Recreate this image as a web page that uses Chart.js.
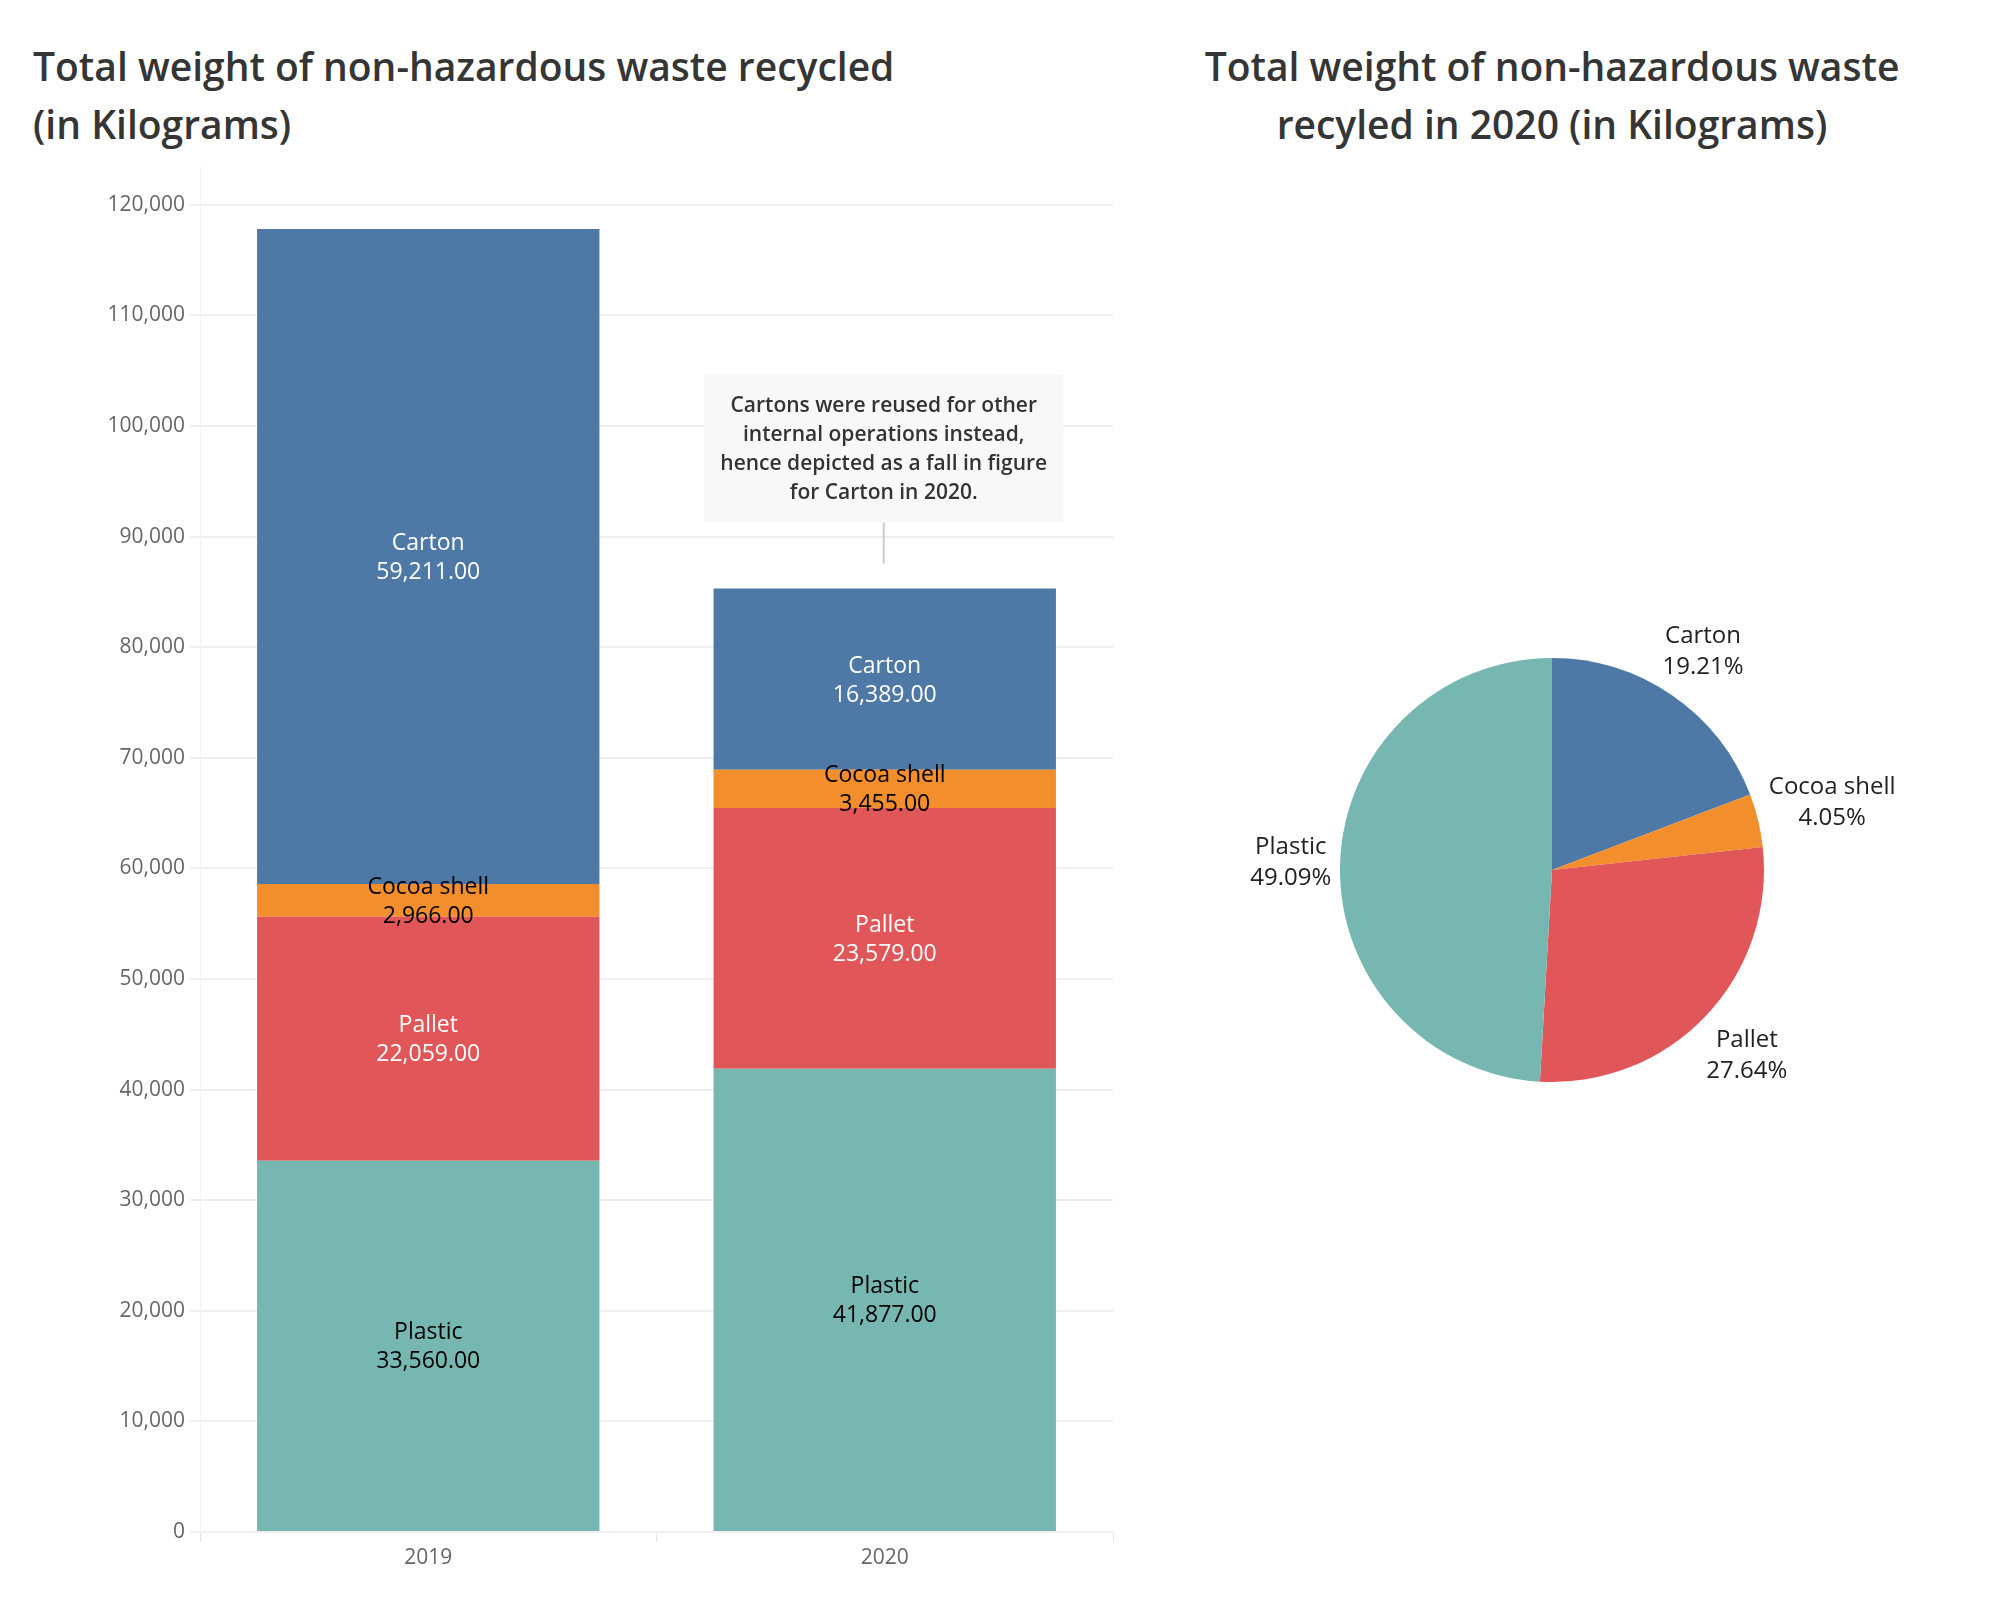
<!DOCTYPE html>
<html>
<head>
<meta charset="utf-8">
<script src="https://cdn.jsdelivr.net/npm/chart.js@4/dist/chart.umd.min.js"></script>
<style>
    html, body { margin: 0; padding: 0; background: #ffffff; }
    #page { position: relative; width: 2000px; height: 1600px; overflow: hidden; }
    .title {
        position: absolute; font-family: 'Open Sans', sans-serif; font-weight: 600;
        font-size: 39px; line-height: 58px; color: #353535; white-space: nowrap;
    }
    #barTitle { left: 33px; top: 37px; }
    #pieTitle { left: 1140px; width: 824px; top: 37px; text-align: center; }
    #barWrap { position: absolute; left: 0; top: 0; width: 1140px; height: 1600px; }
    #pieWrap { position: absolute; left: 1140px; top: 0; width: 860px; height: 1600px; }
</style>
</head>
<body>
<div id="page">
    <div class="title" id="barTitle">Total weight of non-hazardous waste recycled<br>(in Kilograms)</div>
    <div class="title" id="pieTitle">Total weight of non-hazardous waste<br>recyled in 2020 (in Kilograms)</div>
    <div id="barWrap"><canvas id="barChart"></canvas></div>
    <div id="pieWrap"><canvas id="pieChart"></canvas></div>
</div>
<script>
(function () {
    'use strict';

    var FONT = "'Open Sans', sans-serif";

    // data
    var years = ['2019', '2020'];
    var materials = ['Plastic', 'Pallet', 'Cocoa shell', 'Carton'];
    var plastic = [33560, 41877];
    var pallet = [22059, 23579];
    var cocoaShell = [2966, 3455];
    var carton = [59211, 16389];
    var yTicks = [0, 10000, 20000, 30000, 40000, 50000, 60000, 70000, 80000, 90000, 100000, 110000, 120000];

    // pie: 2020 only, clockwise from 12 o'clock
    var pieLabels = ['Carton', 'Cocoa shell', 'Pallet', 'Plastic'];
    var pieValues = [16389, 3455, 23579, 41877];

    var noteLines = [
        'Cartons were reused for other',
        'internal operations instead,',
        'hence depicted as a fall in figure',
        'for Carton in 2020.'
    ];

    var COLORS = {
        'Carton': '#4e79a7',
        'Cocoa shell': '#f28e2b',
        'Pallet': '#e15759',
        'Plastic': '#76b7b2'
    };
    var LABEL_COLORS = {
        'Carton': '#ffffff',
        'Cocoa shell': '#000000',
        'Pallet': '#ffffff',
        'Plastic': '#000000'
    };
    var GRID = '#efefef';

    function fmt2(v) {
        return v.toLocaleString('en-US', { minimumFractionDigits: 2, maximumFractionDigits: 2 });
    }

    var seriesByName = {
        'Plastic': plastic,
        'Pallet': pallet,
        'Cocoa shell': cocoaShell,
        'Carton': carton
    };

    // labels inside each bar segment
    var segmentLabels = {
        id: 'segmentLabels',
        afterDatasetsDraw: function (chart) {
            var ctx = chart.ctx;
            ctx.save();
            ctx.font = '23px ' + FONT;
            ctx.textAlign = 'center';
            ctx.textBaseline = 'middle';
            chart.data.datasets.forEach(function (ds, di) {
                var meta = chart.getDatasetMeta(di);
                meta.data.forEach(function (el, i) {
                    var mid = (el.y + el.base) / 2;
                    ctx.fillStyle = LABEL_COLORS[ds.label];
                    ctx.fillText(ds.label, el.x, mid - 13);
                    ctx.fillText(fmt2(ds.data[i]), el.x, mid + 16);
                });
            });
            ctx.restore();
        }
    };

    // callout above the 2020 stack
    var noteBox = {
        id: 'noteBox',
        afterDatasetsDraw: function (chart) {
            var last = chart.data.datasets.length - 1;
            var el = chart.getDatasetMeta(last).data[1];
            var ctx = chart.ctx;
            var cx = el.x - 1;
            var lineBottom = el.y - 25;
            var lineTop = el.y - 66;
            var boxW = 359, boxH = 148;
            var boxTop = lineTop - boxH;
            ctx.save();
            ctx.fillStyle = '#f8f8f8';
            ctx.fillRect(cx - boxW / 2, boxTop, boxW, boxH);
            ctx.strokeStyle = '#cccccc';
            ctx.lineWidth = 2;
            ctx.beginPath();
            ctx.moveTo(cx, lineTop);
            ctx.lineTo(cx, lineBottom);
            ctx.stroke();
            ctx.fillStyle = '#333333';
            ctx.font = '600 21px ' + FONT;
            ctx.textAlign = 'center';
            ctx.textBaseline = 'middle';
            noteLines.forEach(function (line, k) {
                ctx.fillText(line, cx, boxTop + 31 + k * 29.3);
            });
            ctx.restore();
        }
    };

    new Chart(document.getElementById('barChart'), {
        type: 'bar',
        data: {
            labels: years,
            datasets: materials.map(function (name) {
                return {
                    label: name,
                    data: seriesByName[name],
                    backgroundColor: COLORS[name],
                    borderWidth: 0,
                    categoryPercentage: 1,
                    barPercentage: 0.75
                };
            })
        },
        options: {
            responsive: true,
            maintainAspectRatio: false,
            animation: false,
            layout: { padding: { top: 166, right: 27, left: 0, bottom: 0 } },
            plugins: {
                legend: { display: false },
                tooltip: { enabled: false }
            },
            scales: {
                x: {
                    stacked: true,
                    afterFit: function (scale) { scale.height = 68; },
                    grid: {
                        display: true,
                        drawOnChartArea: false,
                        color: '#e4e4e4',
                        tickLength: 10
                    },
                    border: { display: true, color: GRID, width: 2 },
                    ticks: {
                        font: { family: FONT, size: 21 },
                        color: '#666666',
                        padding: 3
                    }
                },
                y: {
                    stacked: true,
                    min: 0,
                    max: 123500,
                    afterFit: function (scale) { scale.width = 200; },
                    afterBuildTicks: function (scale) {
                        scale.ticks = yTicks.map(function (v) { return { value: v }; });
                    },
                    grid: {
                        color: GRID,
                        lineWidth: 2,
                        tickLength: 10
                    },
                    border: { display: true, color: '#f3f3f3', width: 1 },
                    ticks: {
                        font: { family: FONT, size: 21 },
                        color: '#666666',
                        padding: 5,
                        callback: function (v) { return v.toLocaleString('en-US'); }
                    }
                }
            }
        },
        plugins: [segmentLabels, noteBox]
    });

    // outside labels for the pie
    var pieOutLabels = {
        id: 'pieOutLabels',
        afterDatasetsDraw: function (chart) {
            var ctx = chart.ctx;
            var meta = chart.getDatasetMeta(0);
            var total = pieValues.reduce(function (a, b) { return a + b; }, 0);
            ctx.save();
            ctx.font = '24px ' + FONT;
            ctx.fillStyle = '#222222';
            ctx.textAlign = 'center';
            ctx.textBaseline = 'middle';
            meta.data.forEach(function (arc, i) {
                var mid = (arc.startAngle + arc.endAngle) / 2;
                var name = pieLabels[i];
                var pct = (pieValues[i] / total * 100).toFixed(2) + '%';
                var hw = Math.max(ctx.measureText(name).width, ctx.measureText(pct).width) / 2;
                var hh = 28;
                var c = Math.cos(mid), s = Math.sin(mid);
                var d = arc.outerRadius + 8 + Math.abs(c) * hw + Math.abs(s) * hh;
                var x = arc.x + c * d;
                var y = arc.y + s * d;
                ctx.fillText(name, x, y - 15);
                ctx.fillText(pct, x, y + 16);
            });
            ctx.restore();
        }
    };

    new Chart(document.getElementById('pieChart'), {
        type: 'pie',
        data: {
            labels: pieLabels,
            datasets: [{
                data: pieValues,
                backgroundColor: pieLabels.map(function (n) { return COLORS[n]; }),
                borderWidth: 0
            }]
        },
        options: {
            responsive: true,
            maintainAspectRatio: false,
            animation: false,
            layout: { padding: { left: 200, right: 236, top: 658, bottom: 518 } },
            plugins: {
                legend: { display: false },
                tooltip: { enabled: false }
            }
        },
        plugins: [pieOutLabels]
    });
})();
</script>
</body>
</html>
